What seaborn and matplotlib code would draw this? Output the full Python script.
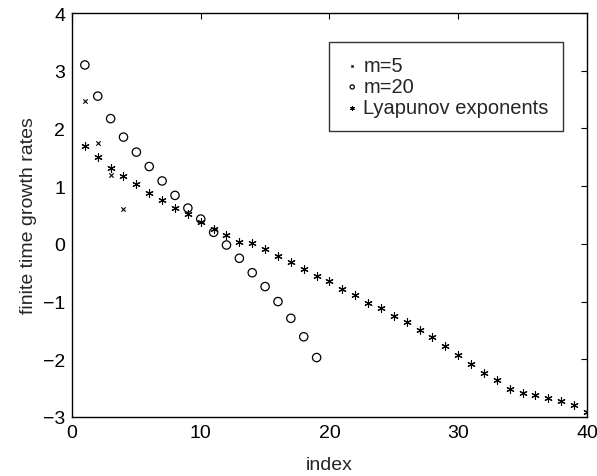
import numpy as np
import pandas as pd
import matplotlib
matplotlib.use('Agg')
import matplotlib.pyplot as plt
import seaborn as sns

# Datos
idx_m5 = [1, 2, 3, 4]
rates_m5 = [2.47, 1.75, 1.20, 0.61]

idx_m20 = list(range(1, 20))
rates_m20 = [3.10, 2.56, 2.17, 1.85, 1.59, 1.34, 1.09, 0.84, 0.62, 0.43,
             0.20, -0.02, -0.25, -0.50, -0.74, -1.00, -1.29, -1.61, -1.97]

idx_lyap = list(range(1, 41))
lyap = [1.69, 1.50, 1.32, 1.17, 1.03, 0.88, 0.76, 0.63, 0.51, 0.38,
        0.25, 0.15, 0.03, 0.01, -0.09, -0.21, -0.31, -0.44, -0.55, -0.65,
        -0.79, -0.88, -1.03, -1.11, -1.25, -1.36, -1.49, -1.62, -1.77, -1.93,
        -2.09, -2.24, -2.36, -2.51, -2.58, -2.62, -2.67, -2.73, -2.79, -2.92]

sns.set_style('white')
plt.rcParams['font.family'] = ['Liberation Sans', 'DejaVu Sans']
plt.rcParams['font.size'] = 14

fig = plt.figure(figsize=(5.97, 4.77), dpi=100)
ax = fig.add_axes([0.1206, 0.1237, 0.8626, 0.8469])

sns.scatterplot(x=idx_m5, y=rates_m5, marker='x', s=10, color='k',
                linewidths=0.8, label='m=5', ax=ax)
sns.scatterplot(x=idx_m20, y=rates_m20, marker='o', s=36, facecolor='none',
                edgecolor='k', linewidth=0.9, label='m=20', ax=ax)
sns.scatterplot(x=idx_lyap, y=lyap, marker=(6, 2, 0), s=28, color='k',
                linewidths=0.8, label='Lyapunov exponents', ax=ax)

ax.set_xlim(0, 40)
ax.set_ylim(-3, 4)
ax.set_xticks([0, 10, 20, 30, 40])
ax.set_yticks(range(-3, 5))
ax.set_xlabel('index', fontsize=14, labelpad=11)
ax.set_ylabel('finite time growth rates', fontsize=14, labelpad=4)
ax.tick_params(direction='in', top=True, right=True, length=4, width=0.8,
               labelsize=14, colors='k', pad=5)
for sp in ax.spines.values():
    sp.set_color('k')
    sp.set_linewidth(1.0)

leg = ax.legend(loc='upper right', bbox_to_anchor=(0.953, 0.928), fontsize=14.5,
                frameon=True, fancybox=False, handletextpad=0.1,
                handlelength=0.9, borderpad=0.7, labelspacing=0.1,
                markerscale=0.5, borderaxespad=0)
leg.get_frame().set_edgecolor('k')
leg.get_frame().set_linewidth(1.0)

fig.savefig('out.png', dpi=100)
